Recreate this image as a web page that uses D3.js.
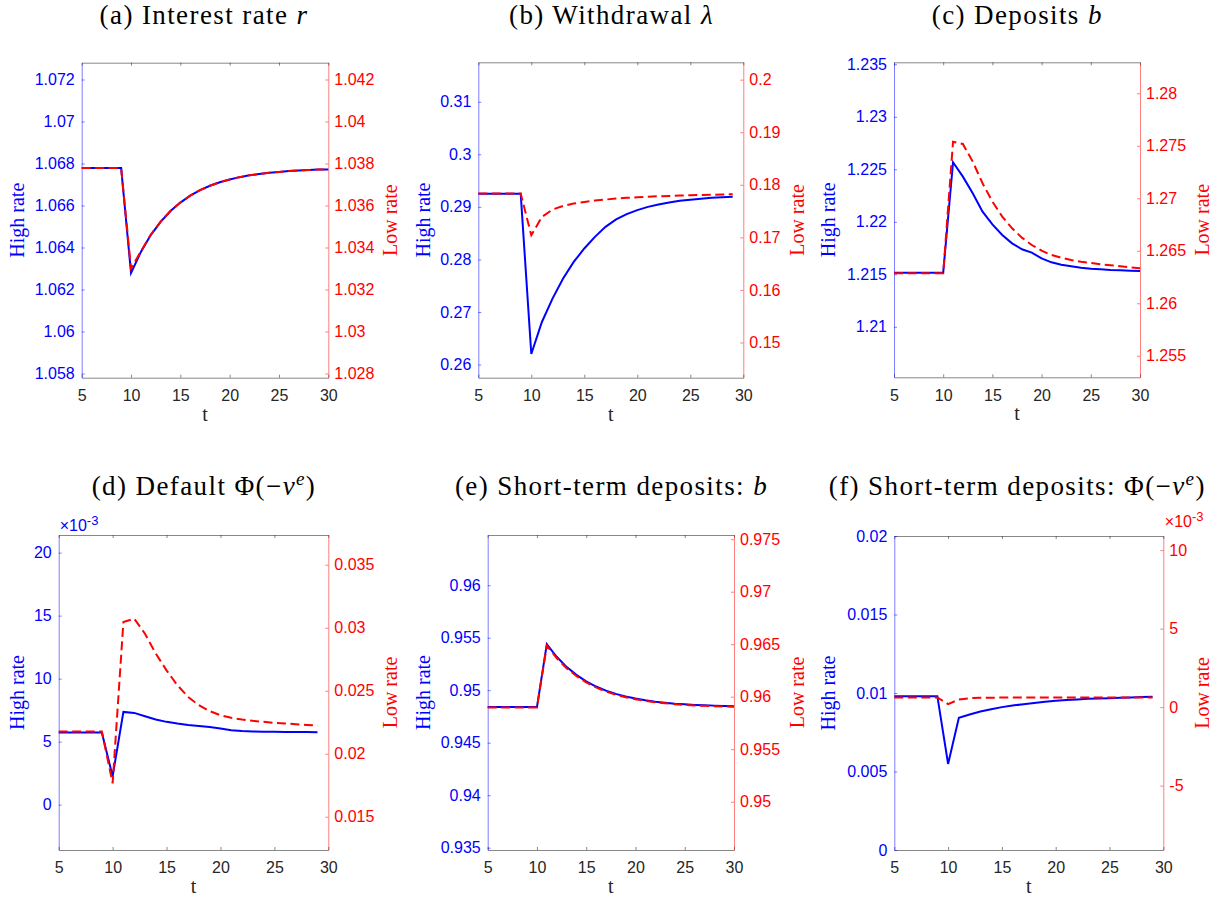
<!DOCTYPE html>
<html>
<head>
<meta charset="utf-8">
<script src="https://cdn.jsdelivr.net/npm/d3@7"></script>
<style>
  body { margin: 0; background: #ffffff; }
  svg { display: block; }
  .serif { font-family: "Liberation Serif", "DejaVu Serif", serif; }
  .sans { font-family: "Liberation Sans", "DejaVu Sans", sans-serif; }
</style>
</head>
<body>
<svg id="fig" width="1222" height="901"></svg>
<script>
// Time periods
const tLong  = [5,6,7,8,9,10,11,12,13,14,15,16,17,18,19,20,21,22,23,24,25,26,27,28,29,30];
const tShort = [5,6,7,8,9,10,11,12,13,14,15,16,17,18,19,20,21,22,23,24,25,26,27,28,29];
const xTicks = [5,10,15,20,25,30];

// (a) Interest rate r
const rateHigh = [1.06778,1.06778,1.06778,1.06778,1.06778,1.06279,1.06379,1.06459,1.06522,1.06574,1.06614,1.06647,1.06673,1.06694,1.06711,1.06724,1.06735,1.06744,1.06750,1.06756,1.06760,1.06764,1.06767,1.06769,1.06771,1.06772];
const rateLow  = [1.03778,1.03778,1.03778,1.03778,1.03778,1.03300,1.03382,1.03461,1.03523,1.03574,1.03614,1.03647,1.03673,1.03694,1.03711,1.03724,1.03735,1.03744,1.03750,1.03756,1.03760,1.03764,1.03767,1.03769,1.03771,1.03772];
const rateTicksHigh = [1.058,1.06,1.062,1.064,1.066,1.068,1.07,1.072];
const rateTicksLow  = [1.028,1.03,1.032,1.034,1.036,1.038,1.04,1.042];

// (b) Withdrawal lambda
const withdrawHigh = [0.29248,0.29248,0.29248,0.29248,0.29248,0.26200,0.26810,0.27255,0.27636,0.27952,0.28208,0.28429,0.28619,0.28760,0.28861,0.28937,0.29000,0.29046,0.29084,0.29114,0.29137,0.29156,0.29171,0.29185,0.29194];
const withdrawLow  = [0.17833,0.17833,0.17833,0.17833,0.17833,0.17040,0.17388,0.17529,0.17597,0.17643,0.17673,0.17700,0.17719,0.17738,0.17751,0.17762,0.17772,0.17781,0.17788,0.17794,0.17800,0.17806,0.17811,0.17815,0.17819];
const withdrawTicksHigh = [0.26,0.27,0.28,0.29,0.3,0.31];
const withdrawTicksLow  = [0.15,0.16,0.17,0.18,0.19,0.2];

// (c) Deposits b
const depositHigh = [1.21515,1.21515,1.21515,1.21515,1.21515,1.21515,1.22567,1.22430,1.22271,1.22096,1.21976,1.21874,1.21795,1.21738,1.21706,1.21652,1.21614,1.21591,1.21576,1.21563,1.21553,1.21548,1.21541,1.21538,1.21534,1.21531];
const depositLow  = [1.26286,1.26286,1.26286,1.26286,1.26286,1.26286,1.27539,1.27517,1.27349,1.27143,1.26968,1.26825,1.26714,1.26625,1.26555,1.26501,1.26460,1.26434,1.26412,1.26396,1.26384,1.26371,1.26362,1.26352,1.26343,1.26333];
const depositTicksHigh = [1.21,1.215,1.22,1.225,1.23,1.235];
const depositTicksLow  = [1.255,1.26,1.265,1.27,1.275,1.28];

// (d) Default probability
const defaultHigh = [0.00572,0.00572,0.00572,0.00572,0.00572,0.00225,0.00736,0.00728,0.00702,0.00676,0.00657,0.00644,0.00633,0.00625,0.00617,0.00604,0.00591,0.00585,0.00581,0.00579,0.00578,0.00577,0.00576,0.00576,0.00575];
const defaultLow  = [0.02177,0.02177,0.02177,0.02177,0.02177,0.01765,0.03045,0.03072,0.02953,0.02795,0.02662,0.02544,0.02451,0.02385,0.02338,0.02306,0.02285,0.02272,0.02261,0.02253,0.02245,0.02240,0.02234,0.02229,0.02224];
const defaultTicksHigh = [0,0.005,0.01,0.015,0.02];
const defaultTicksLow  = [0.015,0.02,0.025,0.03,0.035];

// (e) Short-term deposits b
const shortDepHigh = [0.94839,0.94839,0.94839,0.94839,0.94839,0.94839,0.95438,0.95318,0.95222,0.95146,0.95084,0.95035,0.94996,0.94965,0.94940,0.94920,0.94904,0.94891,0.94881,0.94872,0.94866,0.94860,0.94856,0.94853,0.94850,0.94848];
const shortDepLow  = [0.95898,0.95898,0.95898,0.95898,0.95898,0.95898,0.96487,0.96368,0.96272,0.96197,0.96136,0.96088,0.96049,0.96019,0.95995,0.95976,0.95960,0.95947,0.95937,0.95929,0.95922,0.95917,0.95913,0.95910,0.95907,0.95905];
const shortDepTicksHigh = [0.935,0.94,0.945,0.95,0.955,0.96];
const shortDepTicksLow  = [0.95,0.955,0.96,0.965,0.97,0.975];

// (f) Short-term deposits default probability
const shortDefHigh = [0.00980,0.00980,0.00980,0.00980,0.00980,0.00548,0.00842,0.00863,0.00882,0.00897,0.00910,0.00920,0.00929,0.00937,0.00944,0.00950,0.00955,0.00959,0.00963,0.00965,0.00967,0.00969,0.00971,0.00974,0.00976];
const shortDefLow  = [0.00062,0.00062,0.00062,0.00062,0.00062,0.00019,0.00049,0.00057,0.00059,0.00060,0.00061,0.00061,0.00061,0.00062,0.00062,0.00062,0.00062,0.00062,0.00062,0.00062,0.00062,0.00062,0.00062,0.00062,0.00062];
const shortDefTicksHigh = [0,0.005,0.01,0.015,0.02];
const shortDefTicksLow  = [-0.005,0,0.005,0.01];

// Axis limits
const limitsHigh = [[1.0578,1.0728],[0.2575,0.3175],[1.20519,1.23519],[-0.0036,0.0214],[0.93478,0.96478],[0,0.02]];
const limitsLow  = [[1.0278,1.0428],[0.1433,0.2033],[1.25295,1.28295],[0.01236,0.03736],[0.9454,0.9754],[-0.0091,0.0109]];

const panels = [
  { title: [["(a) Interest rate ", ""], ["r", "italic"]],
    t: tLong, high: rateHigh, low: rateLow, ticksHigh: rateTicksHigh, ticksLow: rateTicksLow, expHigh: 0, expLow: 0 },
  { title: [["(b) Withdrawal ", ""], ["\u03BB", "italic"]],
    t: tShort, high: withdrawHigh, low: withdrawLow, ticksHigh: withdrawTicksHigh, ticksLow: withdrawTicksLow, expHigh: 0, expLow: 0 },
  { title: [["(c) Deposits ", ""], ["b", "italic"]],
    t: tLong, high: depositHigh, low: depositLow, ticksHigh: depositTicksHigh, ticksLow: depositTicksLow, expHigh: 0, expLow: 0 },
  { title: [["(d) Default \u03A6(\u2212", ""], ["v", "italic"], ["e", "sup"], [")", "down"]],
    t: tShort, high: defaultHigh, low: defaultLow, ticksHigh: defaultTicksHigh, ticksLow: defaultTicksLow, expHigh: -3, expLow: 0 },
  { title: [["(e) Short-term deposits: ", ""], ["b", "italic"]],
    t: tLong, high: shortDepHigh, low: shortDepLow, ticksHigh: shortDepTicksHigh, ticksLow: shortDepTicksLow, expHigh: 0, expLow: 0 },
  { title: [["(f) Short-term deposits: \u03A6(\u2212", ""], ["v", "italic"], ["e", "sup"], [")", "down"]],
    t: tShort, high: shortDefHigh, low: shortDefLow, ticksHigh: shortDefTicksHigh, ticksLow: shortDefTicksLow, expHigh: 0, expLow: -3 }
];

// Plot-box geometry for each panel
const layout = [
  { x0: 81.7,  x1: 328.3,  y0: 62.7, y1: 377.7, titleX: 204,    titleY: 23.5, hiX: 16.7,  loX: 390 },
  { x0: 478.3, x1: 743.3,  y0: 62.3, y1: 377.7, titleX: 611.5,  titleY: 23.5, hiX: 422.7, loX: 796.7 },
  { x0: 894,   x1: 1140,   y0: 62.3, y1: 377.3, titleX: 1017.3, titleY: 23.5, hiX: 828.3, loX: 1202.3 },
  { x0: 58.7,  x1: 328.3,  y0: 535,  y1: 850,   titleX: 204,    titleY: 495,  hiX: 16.7,  loX: 390 },
  { x0: 487.7, x1: 734,    y0: 535,  y1: 850,   titleX: 611.5,  titleY: 495,  hiX: 422.7, loX: 796.7 },
  { x0: 894.3, x1: 1163.3, y0: 536,  y1: 850,   titleX: 1017.3, titleY: 495,  hiX: 828.3, loX: 1201.7 }
];

const BLUE = "#0000ff", RED = "#ff0000", GREY = "#262626";
const TICK_FS = "16px";

const svg = d3.select("#fig");

function fmt(exp) {
  const k = Math.pow(10, exp);
  return v => String(+(v / k).toFixed(6));
}

function styleAxis(g, color, opacity) {
  g.attr("font-family", null);
  g.selectAll(".domain").attr("stroke", color).attr("stroke-opacity", opacity).attr("stroke-width", 1);
  g.selectAll(".tick line").attr("stroke", color).attr("stroke-opacity", opacity).attr("stroke-width", 1);
  g.selectAll(".tick text").attr("fill", color).attr("class", "sans").attr("font-size", TICK_FS);
}

panels.forEach((p, i) => {
  const L = layout[i];
  const g = svg.append("g");

  const x = d3.scaleLinear().domain([5, 30]).range([L.x0, L.x1]);
  const yH = d3.scaleLinear().domain(limitsHigh[i]).range([L.y1, L.y0]);
  const yL = d3.scaleLinear().domain(limitsLow[i]).range([L.y1, L.y0]);

  // bottom and top axes (ticks point inward)
  const gb = g.append("g").attr("transform", `translate(0,${L.y1})`)
    .call(d3.axisBottom(x).tickValues(xTicks).tickSizeInner(-3).tickSizeOuter(0).tickPadding(12).tickFormat(d3.format("d")));
  styleAxis(gb, GREY, 0.55);
  gb.selectAll(".tick text").attr("fill", GREY);

  const gt = g.append("g").attr("transform", `translate(0,${L.y0})`)
    .call(d3.axisTop(x).tickValues(xTicks).tickSizeInner(-3).tickSizeOuter(0).tickFormat(""));
  styleAxis(gt, GREY, 0.55);

  // left (high rate) and right (low rate) axes
  const gl = g.append("g").attr("transform", `translate(${L.x0},0)`)
    .call(d3.axisLeft(yH).tickValues(p.ticksHigh).tickSizeInner(-3).tickSizeOuter(0).tickPadding(7).tickFormat(fmt(p.expHigh)));
  styleAxis(gl, BLUE, 0.5);

  const gr = g.append("g").attr("transform", `translate(${L.x1},0)`)
    .call(d3.axisRight(yL).tickValues(p.ticksLow).tickSizeInner(-3).tickSizeOuter(0).tickPadding(6).tickFormat(fmt(p.expLow)));
  styleAxis(gr, RED, 0.5);

  // exponent multipliers
  if (p.expHigh) {
    const m = g.append("text").attr("class", "sans").attr("x", L.x0 + 1).attr("y", L.y0 - 4)
      .attr("fill", BLUE).attr("font-size", "16px");
    m.append("tspan").text("\u00D710");
    m.append("tspan").attr("dy", -6).attr("font-size", "13px").text(String(p.expHigh));
  }
  if (p.expLow) {
    const m = g.append("text").attr("class", "sans").attr("x", L.x1 + 1.5).attr("y", L.y0 - 9.3)
      .attr("fill", RED).attr("font-size", "16px");
    m.append("tspan").text("\u00D710");
    m.append("tspan").attr("dy", -5.5).attr("font-size", "13px").text(String(p.expLow));
  }

  // series: high rate solid blue, low rate dashed red on top
  const lineH = d3.line().x((d, j) => x(p.t[j])).y(d => yH(d));
  const lineL = d3.line().x((d, j) => x(p.t[j])).y(d => yL(d));
  g.append("path").datum(p.high).attr("d", lineH)
    .attr("fill", "none").attr("stroke", BLUE).attr("stroke-width", 2).attr("stroke-linejoin", "miter");
  g.append("path").datum(p.low).attr("d", lineL)
    .attr("fill", "none").attr("stroke", RED).attr("stroke-width", 2)
    .attr("stroke-dasharray", "9,4.5").attr("stroke-linejoin", "miter");

  // axis labels
  const yc = (L.y0 + L.y1) / 2;
  g.append("text").attr("class", "serif").attr("transform", `translate(${L.hiX},${yc}) rotate(-90)`)
    .attr("text-anchor", "middle").attr("dominant-baseline", "central")
    .attr("fill", BLUE).attr("font-size", "20px").text("High rate");
  g.append("text").attr("class", "serif").attr("transform", `translate(${L.loX},${yc}) rotate(-90)`)
    .attr("text-anchor", "middle").attr("dominant-baseline", "central")
    .attr("fill", RED).attr("font-size", "20px").text("Low rate");
  g.append("text").attr("class", "serif").attr("x", (L.x0 + L.x1) / 2).attr("y", L.y1 + 43)
    .attr("text-anchor", "middle").attr("fill", GREY)
    .attr("font-size", "20px").text("t");

  // title
  const tt = g.append("text").attr("class", "serif").attr("x", L.titleX).attr("y", L.titleY)
    .attr("text-anchor", "middle").attr("fill", "#000")
    .attr("font-size", "27px").attr("letter-spacing", "1.4px");
  p.title.forEach(([s, kind]) => {
    const sp = tt.append("tspan").text(s);
    if (kind === "italic") sp.attr("font-style", "italic");
    if (kind === "sup") sp.attr("font-style", "italic").attr("font-size", "19px").attr("dy", -10);
    if (kind === "down") sp.attr("dy", 10);
  });
});
</script>
</body>
</html>
